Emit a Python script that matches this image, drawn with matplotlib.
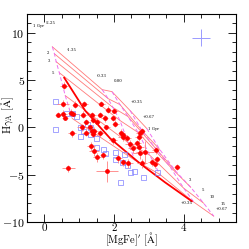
import numpy as np
import matplotlib
matplotlib.use("Agg")
import matplotlib.pyplot as plt
from matplotlib.ticker import MultipleLocator, FuncFormatter

plt.rcParams['font.family'] = ['DejaVu Serif']
plt.rcParams['mathtext.fontset'] = 'cm'

# ---- model grid: rows = ages, columns = metallicities ----
ages = ["1", "2", "3", "5", "10", "15"]
metals = ["-1.35", "-0.33", "0.00", "+0.35", "+0.67"]
grid_mgfe = [
    [0.23, 1.66, 1.94, 2.46, 2.94],
    [0.29, 1.83, 2.17, 2.80, 3.31],
    [0.34, 1.97, 2.40, 3.17, 3.77],
    [0.43, 2.17, 2.69, 3.60, 4.20],
    [0.60, 2.40, 3.03, 4.00, 4.57],
    [0.80, 2.60, 3.31, 4.29, 4.86],
]
grid_hg = [
    [8.53, 4.00, 3.79, 1.79, -0.11],
    [7.79, 3.05, 2.42, -0.32, -2.32],
    [6.95, 2.11, 1.16, -2.11, -4.63],
    [5.79, 0.74, -0.53, -4.11, -6.32],
    [3.37, -1.58, -2.95, -6.42, -8.00],
    [0.95, -3.47, -4.95, -7.89, -9.37],
]

# thick reference line
thick_x = [0.57, 1.17, 1.89, 2.74, 3.46, 4.23]
thick_y = [5.26, 1.79, -1.16, -3.79, -5.79, -7.79]

# ---- red galaxies with errors ----
red_x = [0.57, 0.54, 0.89, 1.14, 1.63, 1.83, 2.00, 0.40, 0.54, 0.60, 0.77, 0.83,
         1.11, 1.37, 1.60, 1.74, 1.97, 1.51, 2.03, 1.20, 1.40, 1.09, 1.31, 1.20,
         1.37, 1.40, 0.80, 1.77, 1.43, 1.60, 2.20, 2.26, 1.97, 2.74, 2.46, 2.66,
         2.71, 1.69, 2.11, 2.26, 2.89, 3.09, 2.40, 0.69, 2.80, 2.71, 2.26, 2.37,
         2.54, 3.20, 2.74, 3.23, 2.80, 3.17, 3.80, 1.34, 1.43, 1.51, 1.80]
red_y = [4.42, 2.53, 2.42, 2.53, 2.53, 1.89, 1.79, 1.37, 1.47, 1.05, 1.58, 1.47,
         1.37, 1.37, 1.37, 0.95, 0.95, 0.63, 0.42, 0.63, 0.84, 0.00, 0.00, -0.53,
         -0.42, -0.74, -0.63, 0.00, -0.32, -0.63, -0.53, -1.05, -1.37, -0.63, -1.79, -1.68,
         -2.11, -2.95, -3.26, -3.68, -2.63, -3.68, -3.79, -4.32, -0.42, -1.05, -0.84, -1.16,
         -2.21, -2.42, -2.74, -3.37, -3.79, -3.89, -4.21, -2.00, -2.53, -3.16, -4.63]
red_xerr = [0.11, 0.17, 0.10, 0.10, 0.10, 0.10, 0.10, 0.08, 0.10, 0.08, 0.10, 0.10,
            0.12, 0.10, 0.10, 0.10, 0.10, 0.12, 0.10, 0.10, 0.10, 0.15, 0.10, 0.12,
            0.10, 0.10, 0.12, 0.10, 0.10, 0.10, 0.10, 0.15, 0.12, 0.10, 0.15, 0.10,
            0.15, 0.10, 0.12, 0.10, 0.26, 0.12, 0.15, 0.19, 0.10, 0.12, 0.10, 0.12,
            0.15, 0.10, 0.20, 0.10, 0.15, 0.12, 0.08, 0.12, 0.15, 0.12, 0.31]
red_yerr = [0.40, 0.35, 0.35, 0.30, 0.30, 0.35, 0.30, 0.30, 0.35, 0.30, 0.35, 0.30,
            0.35, 0.30, 0.30, 0.35, 0.30, 0.40, 0.35, 0.30, 0.35, 0.40, 0.30, 0.40,
            0.35, 0.30, 0.40, 0.30, 0.35, 0.35, 0.35, 0.40, 0.40, 0.35, 0.50, 0.35,
            0.50, 0.40, 0.45, 0.40, 1.20, 0.40, 0.50, 0.40, 0.35, 0.40, 0.35, 0.40,
            0.50, 0.40, 0.60, 0.40, 0.50, 0.40, 0.30, 0.45, 0.50, 0.45, 1.10]

# ---- blue open squares ----
blue_x = [0.31, 0.63, 0.80, 0.91, 0.31, 1.03, 1.11, 1.23, 1.31, 1.03, 1.31, 1.49,
          1.49, 1.69, 1.74, 2.03, 2.03, 2.23, 2.37, 2.17, 2.29, 2.46, 2.57, 2.83, 3.23]
blue_y = [2.84, 1.58, 1.58, 1.26, -0.11, 0.00, -0.42, 0.42, 0.00, -0.95, -0.74, -1.16,
          -2.11, -2.32, -2.74, -2.63, -3.37, -3.68, -4.00, -5.79, -2.84, -4.74, -4.63, -5.26, -4.74]
blue_err_x, blue_err_y = [4.5], [9.5]
blue_err_dx, blue_err_dy = [0.25], [0.9]

# ---- labels on the grid ----
label_text = ["1 Gyr", "-2.25", "-1.35", "2", "3", "5", "-0.33", "0.00", "+0.35", "+0.67",
              "1 Gyr", "3", "5", "10", "15", "+0.35", "+0.67"]
label_x = [-0.17, 0.20, 0.80, 0.11, 0.14, 0.26, 1.66, 2.11, 2.66, 3.00,
           3.14, 4.17, 4.54, 4.80, 5.14, 4.09, 5.09]
label_y = [10.74, 11.05, 8.21, 7.89, 7.05, 5.79, 5.47, 4.95, 2.74, 1.16,
           -0.11, -5.58, -6.63, -7.37, -8.11, -8.00, -8.63]

fig = plt.figure(figsize=(2.49, 2.49), dpi=100)
ax = fig.add_axes([0.108, 0.108, 0.84, 0.836])

gx = np.array(grid_mgfe)
gy = np.array(grid_hg)
for i in range(gx.shape[0]):
    ax.plot(gx[i], gy[i], color='#ff7a7a', lw=0.6, zorder=2)
for j in range(gx.shape[1]):
    ax.plot(gx[:, j], gy[:, j], color='#f070f0', lw=0.7, ls=(0, (4, 2.5)), zorder=2)
ax.plot(thick_x, thick_y, color='#ff0000', lw=1.3, zorder=3)

ax.errorbar(red_x, red_y, xerr=red_xerr, yerr=red_yerr, fmt='o', color='#ff0000',
            ecolor='#ff8080', elinewidth=0.6, markersize=2.4, capsize=0, zorder=5)
ax.plot(blue_x, blue_y, 's', mfc='none', mec='#8080ff', mew=0.5, ms=3.6, zorder=4)
ax.errorbar(blue_err_x, blue_err_y, xerr=blue_err_dx, yerr=blue_err_dy, fmt='none',
            ecolor='#9a9aff', elinewidth=0.7, capsize=0)

for t, x, y in zip(label_text, label_x, label_y):
    ax.text(x, y, t, fontsize=2.8, ha='center', va='center', color='black')

ax.set_xlim(-0.5, 5.5)
ax.set_ylim(-10, 12)
ax.xaxis.set_major_locator(MultipleLocator(2))
ax.xaxis.set_minor_locator(MultipleLocator(0.5))
ax.yaxis.set_major_locator(MultipleLocator(5))
ax.yaxis.set_minor_locator(MultipleLocator(1))
fmt = FuncFormatter(lambda v, p: r'$%d$' % round(v))
ax.xaxis.set_major_formatter(fmt)
ax.yaxis.set_major_formatter(fmt)
ax.tick_params(which='both', direction='in', top=True, right=True, width=0.6, labelsize=8.5, pad=1.5)
ax.tick_params(axis='x', pad=-0.8, labelsize=8)
ax.tick_params(which='major', length=6)
ax.tick_params(which='minor', length=3)
for s in ax.spines.values():
    s.set_linewidth(0.8)

ax.set_xlabel(r"$[\mathrm{MgFe}]'\ [\mathrm{\AA}]$", fontsize=7.6)
ax.set_ylabel(r"$\mathrm{H}\gamma_\mathrm{A}\ [\mathrm{\AA}]$", fontsize=7.8)
ax.xaxis.label.set_va('bottom')
ax.xaxis.set_label_coords(0.5, -0.126)
ax.yaxis.set_label_coords(-0.052, 0.515)

fig.savefig("out.png", dpi=100)
